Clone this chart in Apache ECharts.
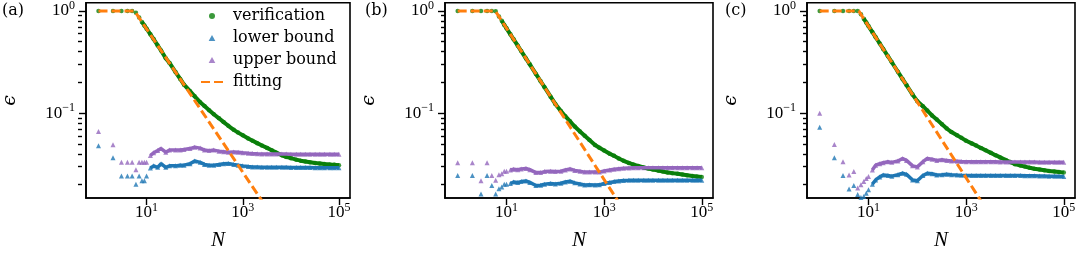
<!DOCTYPE html>
<html><head><meta charset="utf-8">
<script src="https://cdn.jsdelivr.net/npm/echarts@6/dist/echarts.min.js"></script>
<style>html,body{margin:0;padding:0;background:#fff}#c{width:1079px;height:256px}</style>
</head><body><div id="c"></div>
<script>
// ---- data ----
const N = [1,2,3,4,5,6,7,8,9,10,12,14,17,20,25,30,40,50,60,80,100,130,160,200,250,320,400,500,650,800,1000,1300,1600,2000,2500,3200,4000,5000,6500,8000,10000,13000,16000,20000,25000,32000,40000,50000,65000,80000,100000];

const verA = [1,1,1,1,1,0.96,0.86,0.78,0.72,0.67,
  0.59,0.53,0.46,0.41,
  0.345,0.31,0.252,0.216,0.19,0.164,0.146,
  0.128,0.1175,0.107,0.0975,0.089,0.0817,0.0752,0.0687,0.0645,0.0607,
  0.0565,0.0537,0.0509,0.0483,0.0457,0.0434,0.0411,0.0387,0.0373,0.0363,
  0.0351,0.0343,0.0337,0.0331,0.0326,0.0322,0.0318,0.0315,0.0313,0.031];
const lowA = [0.048,0.0366,0.0243,0.0243,0.0243,0.0202,0.0243,0.0218,0.0218,0.0243,
  0.029,0.0305,0.0295,0.032,
  0.0295,0.0305,0.0305,0.031,0.031,0.032,0.034,
  0.033,0.0315,0.031,0.031,0.0315,0.032,0.0322,0.0315,0.031,0.0305,
  0.030,0.0298,0.0297,0.0296,0.0296,0.0295,0.0295,0.0295,0.0295,0.0294,
  0.0294,0.0294,0.0294,0.0294,0.0293,0.0293,0.0293,0.0293,0.0293,0.0293];
const upA = [0.066,0.049,0.033,0.033,0.033,0.028,0.033,0.033,0.033,0.033,
  0.0385,0.041,0.043,0.045,
  0.0415,0.0435,0.0435,0.0435,0.044,0.045,0.0465,
  0.0455,0.0435,0.043,0.0435,0.0425,0.042,0.0415,0.0418,0.0415,0.041,
  0.0405,0.0402,0.04,0.0399,0.0398,0.0398,0.0398,0.0398,0.0398,0.0397,
  0.0397,0.0397,0.0397,0.0397,0.0397,0.0397,0.0397,0.0397,0.0397,0.0397];

const verB = [1,1,1,1,1,0.99,0.88,0.80,0.73,0.676,
  0.59,0.527,0.457,0.405,
  0.343,0.30,0.242,0.205,0.1795,0.145,0.123,
  0.105,0.0933,0.0832,0.074,0.0662,0.0601,0.0546,0.0488,0.0459,0.0432,
  0.0401,0.0382,0.036,0.0342,0.0326,0.0314,0.0304,0.0294,0.0287,0.0281,
  0.0274,0.0268,0.0263,0.0259,0.0255,0.0251,0.0247,0.0243,0.024,0.0237];
const lowB = [0.0245,0.0245,0.0162,0.0245,0.0196,0.0162,0.0182,0.019,0.0202,0.0202,
  0.0205,0.0212,0.021,0.0214,
  0.0217,0.021,0.0196,0.0197,0.0202,0.0205,0.0203,
  0.0206,0.0212,0.0216,0.0208,0.0203,0.0198,0.0199,0.0198,0.0199,0.0205,
  0.021,0.0214,0.0217,0.0219,0.022,0.0221,0.0221,0.0221,0.0221,0.0221,
  0.0221,0.0221,0.0221,0.0221,0.022,0.022,0.022,0.022,0.022,0.022];
const upB = [0.0327,0.0327,0.0218,0.0327,0.0245,0.022,0.025,0.0255,0.027,0.027,
  0.0278,0.0283,0.028,0.0285,
  0.0288,0.028,0.0262,0.0262,0.0268,0.027,0.0268,
  0.027,0.0278,0.0285,0.0275,0.027,0.0265,0.0265,0.0265,0.0265,0.0272,
  0.0278,0.0282,0.0286,0.0289,0.0291,0.0292,0.0293,0.0293,0.0293,0.0293,
  0.0293,0.0293,0.0293,0.0293,0.0293,0.0293,0.0293,0.0293,0.0293,0.0293];

const verC = [1,1,1,1,1,1,0.927,0.84,0.769,0.711,
  0.621,0.554,0.48,0.425,
  0.36,0.315,0.254,0.215,0.188,0.152,0.131,
  0.117,0.106,0.095,0.0865,0.078,0.0708,0.0653,0.0607,0.0573,0.0537,
  0.0506,0.0482,0.0457,0.0434,0.0409,0.0388,0.0369,0.0348,0.0333,0.0317,
  0.0307,0.03,0.0292,0.0286,0.0281,0.0276,0.0272,0.0268,0.0265,0.0262];
const lowC = [0.0728,0.0366,0.0245,0.0181,0.0196,0.016,0.015,0.0153,0.0165,0.0178,
  0.0202,0.0222,0.0238,0.0248,
  0.0245,0.0242,0.025,0.0258,0.0252,0.0222,0.0218,
  0.0245,0.0258,0.0255,0.0248,0.025,0.0252,0.025,0.0248,0.0247,0.0246,
  0.0245,0.0245,0.0245,0.0245,0.0245,0.0245,0.0245,0.0245,0.0245,0.0245,
  0.0245,0.0244,0.0244,0.0244,0.0243,0.0243,0.0242,0.0242,0.0241,0.024];
const upC = [0.1,0.0494,0.0335,0.0248,0.0268,0.0185,0.0199,0.0215,0.023,0.024,
  0.0278,0.031,0.032,0.0327,
  0.0335,0.033,0.034,0.036,0.0345,0.0305,0.0298,
  0.0335,0.036,0.0355,0.0345,0.035,0.0345,0.034,0.0338,0.0336,0.0335,
  0.0334,0.0334,0.0334,0.0334,0.0334,0.0334,0.0333,0.0333,0.0333,0.0333,
  0.0333,0.0332,0.0332,0.0332,0.0331,0.0331,0.0331,0.033,0.033,0.033];

// fitted power law, drawn through its end points
const fitNA = [1, 5.6, 10000], fitA = [1, 1, 0.00527];
const fitNB = [1, 5.9, 10000], fitB = [1, 1, 0.00407];
const fitNC = [1, 6.3, 10000], fitC = [1, 1, 0.00422];

const panelLabels = ['(a)', '(b)', '(c)'];
const xTickExp = [1, 3, 5];
const yTickExp = [0, -1];
const yMinorVals = [0.2,0.3,0.4,0.5,0.6,0.7,0.8,0.9,0.02,0.03,0.04,0.05,0.06,0.07,0.08,0.09];
const legendNames = ['verification', 'lower bound', 'upper bound', 'fitting'];

// ---- build ----
const L = Math.log10;
const COL = {ver:'#0a7f0a', low:'#1f77b4', up:'#9467bd', fit:'#ff7f0e'};
const panels = [
  {left:82, ver:verA, low:lowA, up:upA, fitN:fitNA, fit:fitA, lx:2},
  {left:445, ver:verB, low:lowB, up:upB, fitN:fitNB, fit:fitB, lx:365},
  {left:807, ver:verC, low:lowC, up:upC, fitN:fitNC, fit:fitC, lx:725}
];
const GW = 268, XMIN = -0.26, XMAX = 5.23, YMIN = -1.83, YMAX = 0.08;
const sup = v => v === 0 ? '0' : (v < 0 ? '\u2212' + (-v) : String(v));
const RICH = {
  b:{fontFamily:'Liberation Serif', fontSize:17, lineHeight:17, color:'#000'},
  s:{fontFamily:'Liberation Serif', fontSize:12, lineHeight:12, padding:[0,0,10,0], color:'#000'}
};
const fmt = v => '{b|10}{s|' + sup(Math.round(v)) + '}';
const mkTick = () => ({color:'#000', width:1.4});
const mkLine = () => ({show:true, onZero:false, lineStyle:{color:'#000', width:1.6}});

const grid = [], xAxis = [], yAxis = [], series = [], title = [];
panels.forEach((p, i) => {
  grid.push({left:p.left, top:2, width:GW, height:198, show:true, borderColor:'#000', borderWidth:1.6});
  xAxis.push({gridIndex:i, type:'value', min:XMIN, max:XMAX,
    name:'N', nameLocation:'middle', nameGap:32,
    nameTextStyle:{fontFamily:'Liberation Serif', fontStyle:'italic', fontSize:21, color:'#000'},
    axisLine:mkLine(), splitLine:{show:false},
    axisTick:{show:true, customValues:xTickExp, length:7, lineStyle:mkTick()},
    axisLabel:{customValues:xTickExp, margin:6, formatter:fmt, rich:RICH}
  });
  yAxis.push({gridIndex:i, type:'value', min:YMIN, max:YMAX,
    name:'\u03F5', nameLocation:'middle', nameGap:66,
    nameTextStyle:{fontFamily:'DejaVu Serif', fontStyle:'italic', fontSize:19, color:'#000'},
    axisLine:mkLine(), splitLine:{show:false},
    axisTick:{show:true, customValues:yTickExp, length:7, lineStyle:mkTick()},
    axisLabel:{customValues:yTickExp, margin:11, formatter:fmt, rich:RICH}
  });
  // minor ticks: second y axis (right side by default) shifted onto the left edge
  yAxis.push({gridIndex:i, type:'value', min:YMIN, max:YMAX, offset:-GW,
    axisLine:{show:false, onZero:false}, splitLine:{show:false},
    axisLabel:{customValues:yMinorVals.map(L), formatter:() => ''},
    axisTick:{show:true, inside:true, customValues:yMinorVals.map(L), length:4, lineStyle:mkTick()}
  });
  title.push({text:panelLabels[i], left:p.lx, top:3, padding:0,
    textStyle:{fontFamily:'DejaVu Serif', fontSize:16, fontWeight:'normal', color:'#000'}});

  const pts = arr => N.map((n, k) => [L(n), L(arr[k])]);
  const from = (arr, n0) => N.map((n, k) => [L(n), L(arr[k])]).filter((d, k) => N[k] >= n0);
  const base = {xAxisIndex:i, yAxisIndex:2*i};
  series.push(Object.assign({type:'scatter', name:'verification', symbol:'circle', symbolSize:4.5,
    itemStyle:{color:COL.ver}, data:pts(p.ver)}, base));
  series.push(Object.assign({type:'line', name:'_ver', symbol:'none', showSymbol:false, silent:true,
    lineStyle:{color:COL.ver, width:4}, data:from(p.ver, 8)}, base));
  series.push(Object.assign({type:'scatter', name:'lower bound', symbol:'triangle', symbolSize:5,
    itemStyle:{color:COL.low}, data:pts(p.low)}, base));
  series.push(Object.assign({type:'line', name:'_low', symbol:'none', showSymbol:false, silent:true,
    lineStyle:{color:COL.low, width:3.5}, data:from(p.low, 11)}, base));
  series.push(Object.assign({type:'scatter', name:'upper bound', symbol:'triangle', symbolSize:5,
    itemStyle:{color:COL.up}, data:pts(p.up)}, base));
  series.push(Object.assign({type:'line', name:'_up', symbol:'none', showSymbol:false, silent:true,
    lineStyle:{color:COL.up, width:3.5}, data:from(p.up, 11)}, base));
  series.push(Object.assign({type:'line', name:'fitting', symbol:'none', showSymbol:false, clip:true,
    lineStyle:{color:COL.fit, width:3, type:[9,4]}, itemStyle:{color:COL.fit},
    data:p.fitN.map((n, k) => [L(n), L(p.fit[k])])}, base));
});

const TRI = 'path://M5,0L10,9L0,9Z';
const chart = echarts.init(document.getElementById('c'), null, {renderer:'canvas'});
chart.setOption({
  animation:false,
  backgroundColor:'#fff',
  title, grid, xAxis, yAxis, series,
  legend:{left:195, top:3, orient:'vertical', itemWidth:22, itemHeight:6, itemGap:6,
    selectedMode:false, padding:5,
    textStyle:{fontFamily:'DejaVu Serif', fontSize:16, lineHeight:16, color:'#000', padding:[0,0,0,5]},
    data:[
      {name:legendNames[0], icon:'circle'},
      {name:legendNames[1], icon:TRI},
      {name:legendNames[2], icon:TRI},
      {name:legendNames[3], itemStyle:{opacity:0}}
    ]}
});
</script></body></html>
